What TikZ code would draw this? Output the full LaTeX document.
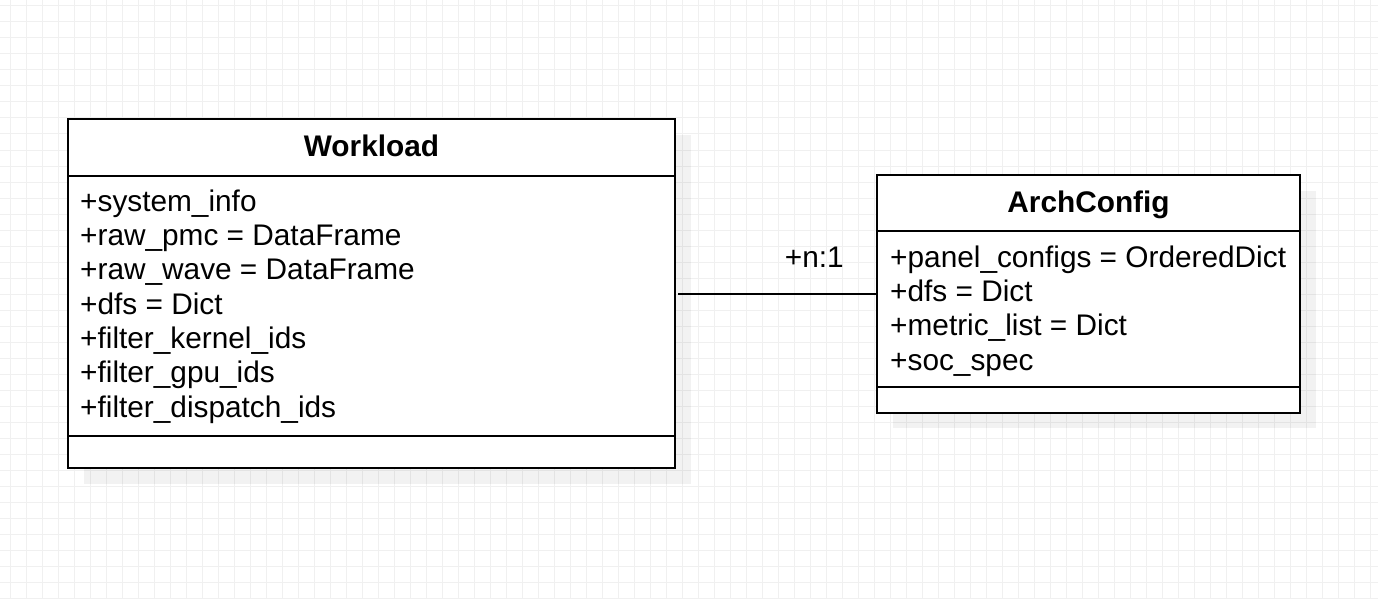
\documentclass[tikz,border=0pt]{standalone}
\usepackage{fontspec}
\setmainfont{Liberation Sans}
\definecolor{gridgray}{HTML}{F0F0F0}
\begin{document}
\begin{tikzpicture}[x=1pt,y=-1pt,
  box/.style={draw, line width=2pt, fill=white, inner sep=0pt},
  attr/.style={anchor=base west, inner sep=0pt, font=\fontsize{29.8}{34}\selectfont},
  title/.style={anchor=base, inner sep=0pt, font=\fontsize{29.8}{34}\selectfont\bfseries}]
\useasboundingbox (0,0) rectangle (1378,599);
\fill [white] (0,0) rectangle (1378,599);

% grid
\foreach \gx in {0,...,85} \draw [gridgray, line width=1pt] (10.5+16*\gx,0) -- (10.5+16*\gx,599);
\foreach \gy in {0,...,37} \draw [gridgray, line width=1pt] (0,6+16*\gy) -- (1378,6+16*\gy);

% shadows
\fill [black, opacity=0.05] (84,135) rectangle (691,484);
\fill [black, opacity=0.05] (893,191) rectangle (1316,428);

\node (wl) at (371.5,293.5) [box, minimum width=607pt, minimum height=349pt]{};
\node (wl-t) at (371.5,157) [title]{Workload};
\path [draw, line width=2pt] (68,176) -- (675,176);
\path [draw, line width=2pt] (68,436) -- (675,436);

\node (wl-1) at (80,211) [attr]{+system\_info};
\node (wl-2) at (80,245) [attr]{+raw\_pmc = DataFrame};
\node (wl-3) at (80,279) [attr]{+raw\_wave = DataFrame};
\node (wl-4) at (80,314) [attr]{+dfs = Dict};
\node (wl-5) at (80,348) [attr]{+filter\_kernel\_ids};
\node (wl-6) at (80,382) [attr]{+filter\_gpu\_ids};
\node (wl-7) at (80,417) [attr]{+filter\_dispatch\_ids};

\node (ac) at (1088.5,293.5) [box, minimum width=423pt, minimum height=238pt]{};
\node (ac-t) at (1088.5,212) [title]{ArchConfig};
\path [draw, line width=2pt] (877,231) -- (1300,231);
\path [draw, line width=2pt] (877,387) -- (1300,387);

\node (ac-1) at (890,267) [attr]{+panel\_configs = OrderedDict};
\node (ac-2) at (890,301) [attr]{+dfs = Dict};
\node (ac-3) at (890,335) [attr]{+metric\_list = Dict};
\node (ac-4) at (890,370) [attr]{+soc\_spec};

\draw [line width=2pt] ([xshift=2pt]wl.east) -- (ac.west);
\node (mult) at (844,267) [attr, anchor=base east]{+n:1};

\end{tikzpicture}
\end{document}
